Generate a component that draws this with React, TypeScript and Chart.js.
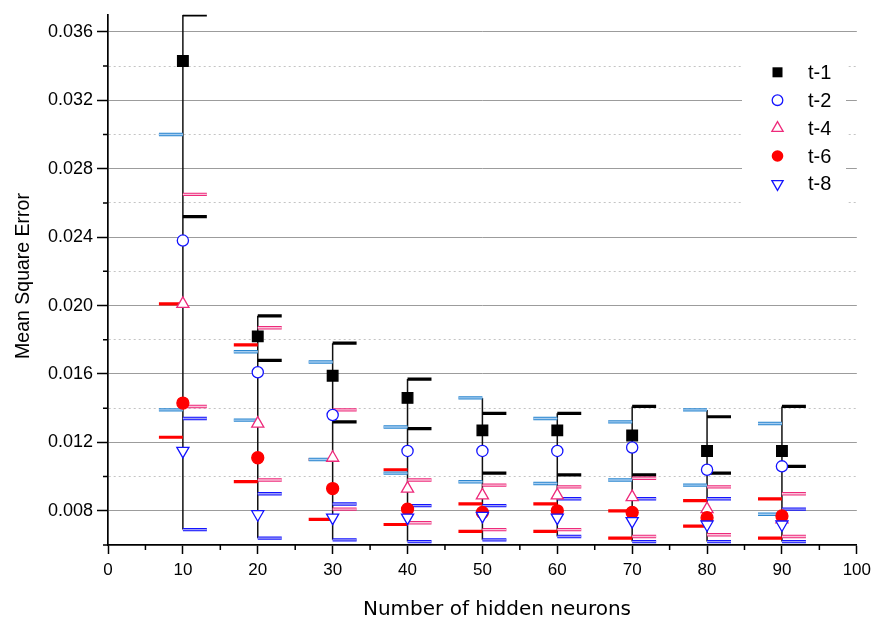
import React, { useEffect, useRef } from 'react';
import { Chart, registerables } from 'chart.js';

Chart.register(...registerables);

// ---------------- data ----------------
const neurons = [10, 20, 30, 40, 50, 60, 70, 80, 90];
const seriesNames = ['t-1', 't-2', 't-4', 't-6', 't-8'];

const t1Mean = [0.0343, 0.0182, 0.0159, 0.0146, 0.0127, 0.0127, 0.0124, 0.0115, 0.0115];
const t1Hi = [0.0370, 0.0194, 0.0178, 0.0157, 0.0137, 0.0137, 0.0141, 0.0135, 0.0141];
const t1Lo = [0.0252, 0.0168, 0.0132, 0.0128, 0.0102, 0.0101, 0.0101, 0.0102, 0.0106];

const t2Mean = [0.0238, 0.0161, 0.0136, 0.0115, 0.0115, 0.0115, 0.0117, 0.0104, 0.0106];
const t2Hi = [0.0300, 0.0173, 0.0167, 0.0129, 0.0146, 0.0134, 0.0132, 0.0139, 0.0131];
const t2Lo = [0.0139, 0.0133, 0.0110, 0.0102, 0.0097, 0.0096, 0.0098, 0.0095, 0.0078];

const t4Mean = [0.0201, 0.0131, 0.0111, 0.0093, 0.0089, 0.0089, 0.0088, 0.0081, 0.0075];
const t4Hi = [0.0265, 0.0187, 0.0139, 0.0098, 0.0095, 0.0094, 0.0099, 0.0094, 0.0090];
const t4Lo = [0.0141, 0.0098, 0.0081, 0.0073, 0.0069, 0.0069, 0.0065, 0.0066, 0.0065];

const t6Mean = [0.0143, 0.0111, 0.0093, 0.0081, 0.0079, 0.0080, 0.0079, 0.0076, 0.0077];
const t6Hi = [0.0201, 0.0177, 0.0110, 0.0104, 0.0084, 0.0084, 0.0080, 0.0086, 0.0087];
const t6Lo = [0.0123, 0.0097, 0.0075, 0.0072, 0.0068, 0.0068, 0.0064, 0.0071, 0.0064];

const t8Mean = [0.0115, 0.0078, 0.0076, 0.0076, 0.0077, 0.0076, 0.0074, 0.0072, 0.0072];
const t8Hi = [0.0134, 0.0090, 0.0084, 0.0083, 0.0083, 0.0087, 0.0087, 0.0087, 0.0081];
const t8Lo = [0.0069, 0.0064, 0.0063, 0.0062, 0.0063, 0.0065, 0.0062, 0.0062, 0.0062];

const xTickValues = [0, 10, 20, 30, 40, 50, 60, 70, 80, 90, 100];
const yMajorTicks = [0.008, 0.012, 0.016, 0.020, 0.024, 0.028, 0.032, 0.036];
const yMinorTicks = [0.006, 0.010, 0.014, 0.018, 0.022, 0.026, 0.030, 0.034];
const xMinorTicks = [5, 15, 25, 35, 45, 55, 65, 75, 85, 95];

const X_MIN = 0, X_MAX = 100, Y_MIN = 0.006, Y_MAX = 0.037;
const BAR_LEN = 3.2; // horizontal whisker length in x units

// ---------------- helpers ----------------
const near = (a: number, b: number) => Math.abs(a - b) < 1e-7;
const isMajor = (v: number) => yMajorTicks.some((t) => near(t, v));
const isMinor = (v: number) => yMinorTicks.some((t) => near(t, v)) && !near(v, 0.006);

function whiskers(hi: number[], lo: number[], side: number) {
  const pts: any[] = [];
  neurons.forEach((x, i) => {
    const x2 = x + side * BAR_LEN;
    pts.push({ x, y: hi[i] }, { x: x2, y: hi[i] }, { x: x2, y: null });
    pts.push({ x, y: lo[i] }, { x: x2, y: lo[i] }, { x: x2, y: null });
  });
  return pts;
}

function verticals() {
  const pts: any[] = [];
  neurons.forEach((x, i) => {
    const hi = Math.max(t1Hi[i], t2Hi[i], t4Hi[i], t6Hi[i], t8Hi[i]);
    const lo = Math.min(t1Lo[i], t2Lo[i], t4Lo[i], t6Lo[i], t8Lo[i]);
    pts.push({ x, y: hi }, { x, y: lo }, { x, y: null });
  });
  return pts;
}

const pts = (arr: number[]) => neurons.map((x, i) => ({ x, y: arr[i] }));

const lineDs = (data: any[], color: string, width: number, order: number) => ({
  type: 'line' as const,
  data,
  borderColor: color,
  borderWidth: width,
  pointRadius: 0,
  pointHoverRadius: 0,
  spanGaps: false,
  tension: 0,
  fill: false,
  borderCapStyle: 'butt' as const,
  order,
});

const markerDs = (label: string, data: any[], style: string, color: string, bg: string, radius: number, order: number, rotation = 0) => ({
  type: 'line' as const,
  label,
  data,
  showLine: false,
  pointStyle: style,
  pointRotation: rotation,
  pointRadius: radius,
  pointHoverRadius: radius,
  pointBorderColor: color,
  pointBackgroundColor: bg,
  pointBorderWidth: 1.3,
  borderColor: color,
  backgroundColor: bg,
  order,
});

const C_BLACK = '#000000';
const C_LB_OUT = '#2b86d0';
const C_LB_IN = '#a6cdf0';
const C_PINK = '#ee2a7b';
const C_PINK_IN = '#f9c3d9';
const C_RED = '#ff0000';
const C_BLUE = '#1414ff';
const C_BLUE_IN = '#a0a0f5';

// ---------------- custom drawing (axes extras, titles, legend) ----------------
const decorPlugin = {
  id: 'decor',
  afterDraw(chart: any) {
    const { ctx, chartArea, scales } = chart;
    const xs = scales.x, ys = scales.y;
    ctx.save();
    // minor ticks
    ctx.strokeStyle = '#000';
    ctx.lineWidth = 1.5;
    ctx.beginPath();
    yMinorTicks.forEach((v) => {
      const y = ys.getPixelForValue(v);
      ctx.moveTo(chartArea.left - 5, y);
      ctx.lineTo(chartArea.left, y);
    });
    xMinorTicks.forEach((v) => {
      const x = xs.getPixelForValue(v);
      ctx.moveTo(x, chartArea.bottom);
      ctx.lineTo(x, chartArea.bottom + 5);
    });
    ctx.stroke();

    // axis titles
    ctx.fillStyle = '#000';
    ctx.textAlign = 'center';
    ctx.textBaseline = 'middle';
    ctx.font = '20px "DejaVu Sans"';
    ctx.fillText('Number of hidden neurons', 497, 610);
    ctx.save();
    ctx.translate(24, 276);
    ctx.rotate(-Math.PI / 2);
    ctx.font = '19.5px "Liberation Sans", Arial';
    ctx.fillText('Mean Square Error', 0, 0);
    ctx.restore();

    // legend
    ctx.fillStyle = '#fff';
    ctx.fillRect(742, 48, 104, 166);
    const mx = 777.5, y0 = 72.3, dy = 27.9;
    ctx.lineWidth = 1.3;
    // t-1 square
    let y = y0;
    ctx.fillStyle = C_BLACK;
    ctx.fillRect(mx - 5, y - 5, 10, 10);
    // t-2 circle
    y = y0 + dy;
    ctx.strokeStyle = C_BLUE;
    ctx.beginPath();
    ctx.arc(mx, y, 5.3, 0, Math.PI * 2);
    ctx.stroke();
    // t-4 triangle
    y = y0 + 2 * dy;
    ctx.strokeStyle = C_PINK;
    ctx.beginPath();
    ctx.moveTo(mx, y - 6.5);
    ctx.lineTo(mx + 6.5 * 0.866, y + 3.25);
    ctx.lineTo(mx - 6.5 * 0.866, y + 3.25);
    ctx.closePath();
    ctx.stroke();
    // t-6 filled circle
    y = y0 + 3 * dy;
    ctx.fillStyle = C_RED;
    ctx.beginPath();
    ctx.arc(mx, y, 5.8, 0, Math.PI * 2);
    ctx.fill();
    // t-8 down triangle
    y = y0 + 4 * dy;
    ctx.strokeStyle = C_BLUE;
    ctx.beginPath();
    ctx.moveTo(mx, y + 6.5);
    ctx.lineTo(mx + 6.5 * 0.866, y - 3.25);
    ctx.lineTo(mx - 6.5 * 0.866, y - 3.25);
    ctx.closePath();
    ctx.stroke();

    ctx.fillStyle = '#000';
    ctx.textAlign = 'left';
    ctx.textBaseline = 'middle';
    ctx.font = '20px "Liberation Sans", Arial';
    seriesNames.forEach((name, i) => {
      ctx.fillText(name, 808, y0 + i * dy + 1);
    });
    ctx.restore();
  },
};

export default function App() {
  const ref = useRef<HTMLCanvasElement>(null);

  useEffect(() => {
    if (!ref.current) return;
    const datasets: any[] = [
      // markers (lower order = drawn on top)
      markerDs('t-8', pts(t8Mean), 'triangle', C_BLUE, '#ffffff', 7, 0, 180),
      markerDs('t-6', pts(t6Mean), 'circle', C_RED, C_RED, 6, 1),
      markerDs('t-4', pts(t4Mean), 'triangle', C_PINK, '#ffffff', 7, 2),
      markerDs('t-2', pts(t2Mean), 'circle', C_BLUE, '#ffffff', 5.6, 3),
      markerDs('t-1', pts(t1Mean), 'rect', C_BLACK, C_BLACK, 7.5, 4),
      // whiskers
      lineDs(whiskers(t2Hi, t2Lo, -1), C_LB_IN, 1.4, 5),
      lineDs(whiskers(t2Hi, t2Lo, -1), C_LB_OUT, 3.4, 6),
      lineDs(whiskers(t8Hi, t8Lo, 1), C_BLUE_IN, 1.4, 7),
      lineDs(whiskers(t8Hi, t8Lo, 1), C_BLUE, 3.4, 8),
      lineDs(whiskers(t6Hi, t6Lo, -1), C_RED, 3.2, 9),
      lineDs(whiskers(t4Hi, t4Lo, 1), C_PINK_IN, 1.4, 10),
      lineDs(whiskers(t4Hi, t4Lo, 1), C_PINK, 3.4, 11),
      lineDs(whiskers(t1Hi, t1Lo, 1), C_BLACK, 3.2, 12),
      // vertical range lines
      lineDs(verticals(), '#111111', 1.5, 20),
    ];

    const chart = new Chart(ref.current, {
      type: 'line',
      data: { datasets },
      options: {
        animation: false,
        responsive: false,
        maintainAspectRatio: false,
        layout: { padding: { top: 14, right: 17.5, left: 0, bottom: 0 } },
        plugins: {
          legend: { display: false },
          tooltip: { enabled: false },
          title: { display: false },
        },
        events: [],
        scales: {
          x: {
            type: 'linear',
            min: X_MIN,
            max: X_MAX,
            afterBuildTicks: (s: any) => {
              s.ticks = xTickValues.map((v) => ({ value: v }));
            },
            ticks: {
              autoSkip: false,
              maxRotation: 0,
              color: '#000',
              padding: 6,
              font: { family: '"Liberation Sans", Arial', size: 17 },
              callback: (v: any) => String(v),
            },
            grid: {
              drawOnChartArea: false,
              tickLength: 9,
              tickColor: '#000',
              tickWidth: 1.5,
            },
            border: { display: true, color: '#000', width: 1.7 },
            afterFit: (s: any) => {
              s.height = 81;
            },
          },
          y: {
            type: 'linear',
            min: Y_MIN,
            max: Y_MAX,
            afterBuildTicks: (s: any) => {
              s.ticks = [...yMinorTicks, ...yMajorTicks].sort((a, b) => a - b).map((v) => ({ value: v }));
            },
            ticks: {
              autoSkip: false,
              color: '#000',
              padding: 4,
              font: { family: '"Liberation Sans", Arial', size: 18 },
              callback: (v: any) => (isMajor(Number(v)) ? Number(v).toFixed(3) : ''),
            },
            grid: {
              drawOnChartArea: true,
              lineWidth: 1,
              color: (c: any) => {
                const v = c.tick ? c.tick.value : NaN;
                if (isMajor(v)) return '#9c9c9c';
                if (isMinor(v)) return '#c4c4c4';
                return 'rgba(0,0,0,0)';
              },
              tickLength: 11,
              tickWidth: 1.5,
              tickColor: (c: any) => (c.tick && isMajor(c.tick.value) ? '#000' : 'rgba(0,0,0,0)'),
            },
            border: {
              display: true,
              color: '#000',
              width: 1.7,
              dash: (c: any) => (c.tick && isMinor(c.tick.value) ? [2, 3] : []),
            },
            afterFit: (s: any) => {
              s.width = 108;
            },
          },
        },
      } as any,
      plugins: [decorPlugin],
    } as any);
    return () => chart.destroy();
  }, []);

  return (
    <div style={{ position: 'absolute', left: 0, top: 0, width: 877, height: 626, background: '#fff' }}>
      <canvas ref={ref} width={877} height={626} style={{ display: 'block', width: 877, height: 626 }} />
    </div>
  );
}
